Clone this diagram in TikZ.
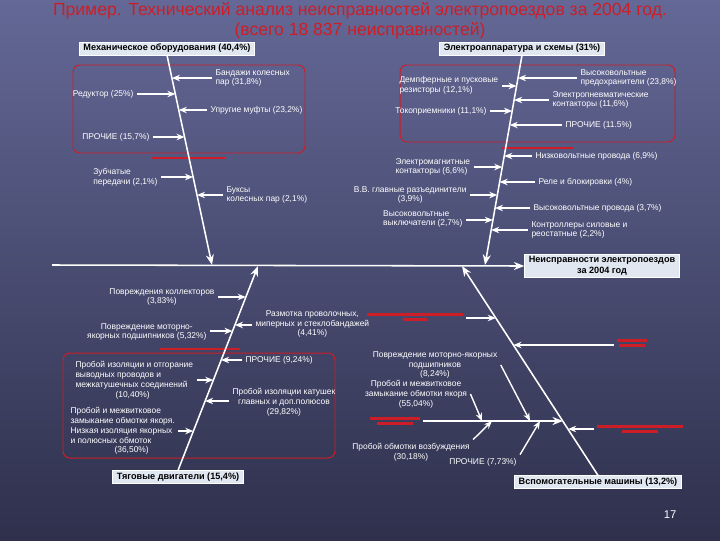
\documentclass[tikz,border=0pt]{standalone}
\usepackage{fontspec}
\setmainfont{Liberation Sans}
\usetikzlibrary{arrows.meta,positioning,calc}
\definecolor{tred}{RGB}{205,30,40}
\definecolor{hdrfill}{RGB}{224,231,241}
\definecolor{bgtop}{RGB}{100,104,150}
\definecolor{bgbot}{RGB}{46,48,76}
\tikzset{
  hdr/.style={draw=white,fill=hdrfill,text=black,font=\fontsize{6.5}{7.5}\selectfont\bfseries,align=center,inner xsep=3pt,inner ysep=1.5pt},
  lbl/.style={text=white,font=\fontsize{6}{7}\selectfont,align=left,inner sep=1pt,outer sep=1.5pt},
  arr/.style={-{Stealth[length=2mm,width=1.6mm]},white,line width=1pt},
  bone/.style={-{Stealth[length=2.6mm,width=2mm]},white,line width=1.1pt},
  rbox/.style={draw=tred,rounded corners=5pt,line width=0.7pt},
  rlbl/.style={inner sep=0pt,outer sep=2pt,text=tred,align=center,font=\fontsize{2}{3}\selectfont},
}

\begin{document}
\begin{tikzpicture}[x=0.025cm,y=-0.025cm]
% background
\path[use as bounding box,top color=bgtop,bottom color=bgbot] (0,0) rectangle (720,540);

% title
\node[text=tred,font=\fontsize{12.5}{15}\selectfont] (ttl1) at (360,11) {Пример. Технический анализ неисправностей электропоездов за 2004 год.};
\node[text=tred,font=\fontsize{12.5}{15}\selectfont] (ttl2) at (360,31) {(всего 18 837 неисправностей)};

% red frames
\draw[rbox] (73,65) rectangle (305,153);
\draw[rbox] (400,65) rectangle (675,142);
\draw[rbox] (63,353) rectangle (335,458);
\draw[tred,line width=2pt] (152,158) -- (225,158);
\draw[tred,line width=2pt] (502,148) -- (573,148);
\draw[tred,line width=2pt] (160,349) -- (240,349);

% heads and spine
\node[hdr] (mech) at (167,48.5) {Механическое оборудования (40,4\%)};
\node[hdr] (elec) at (522,48.5) {Электроаппаратура и схемы (31\%)};
\node[hdr] (trac) at (178,477) {Тяговые двигатели (15,4\%)};
\node[hdr] (aux) at (598,482) {Вспомогательные машины (13,2\%)};
\node[hdr] (goal) at (602,266) {Неисправности электропоездов\\за 2004 год};

\coordinate (sp0) at (52,265);
\coordinate (m0) at (212,265);
\coordinate (e0) at (485,265);
\coordinate (t0) at (258,266);
\coordinate (v0) at (462,266);
\draw[bone] (sp0) -- (goal.west);
\draw[bone] (mech.south) -- (m0);
\draw[bone] (elec.south) -- (e0);
\draw[bone] (trac.north) -- (t0);
\draw[bone] (aux.north) -- (v0);

% mechanical
\node[lbl,anchor=west] (b1a) at (212,78) {Бандажи колесных\\пар (31,8\%)};
\node[lbl,anchor=east] (b1b) at (137,94) {Редуктор (25\%)};
\node[lbl,anchor=west] (b1c) at (207,110) {Упругие муфты (23,2\%)};
\node[lbl,anchor=east] (b1d) at (153,137) {ПРОЧИЕ (15,7\%)};
\node[lbl,anchor=east] (b1e) at (161,177) {Зубчатые\\передачи (2,1\%)};
\node[lbl,anchor=west] (b1f) at (223,195) {Буксы\\колесных пар (2,1\%)};
\coordinate (h1a) at (171.9,78);
\coordinate (h1b) at (175.4,94);
\coordinate (h1c) at (178.8,110);
\coordinate (h1d) at (184.6,137);
\coordinate (h1e) at (193.1,177);
\coordinate (h1f) at (197.0,195);
\draw[arr] (b1a.west |- h1a) -- (h1a);
\draw[arr] (b1b.east |- h1b) -- (h1b);
\draw[arr] (b1c.west |- h1c) -- (h1c);
\draw[arr] (b1d.east |- h1d) -- (h1d);
\draw[arr] (b1e.east |- h1e) -- (h1e);
\draw[arr] (b1f.west |- h1f) -- (h1f);

% electrical
\node[lbl,anchor=west] (b2a) at (577,78) {Высоковольтные\\предохранители (23,8\%)};
\node[lbl,anchor=west] (b2b) at (396,85) {Демпферные и пусковые\\резисторы (12,1\%)};
\node[lbl,anchor=west] (b2c) at (549,100) {Электропневматические\\контакторы (11,6\%)};
\node[lbl,anchor=east] (b2d) at (490,111) {Токоприемники (11,1\%)};
\node[lbl,anchor=west] (b2e) at (562,125) {ПРОЧИЕ (11.5\%)};
\node[lbl,anchor=west] (b2f) at (532,156) {Низковольтные провода (6,9\%)};
\node[lbl,anchor=west] (b2g) at (392,167) {Электромагнитные\\контакторы (6,6\%)};
\node[lbl,anchor=west] (b2h) at (535,182) {Реле и блокировки (4\%)};
\node[lbl,anchor=east,align=center] (b2i) at (470,195) {В.В. главные разъединители\\(3,9\%)};
\node[lbl,anchor=west] (b2j) at (530,208) {Высоковольтные провода (3,7\%)};
\node[lbl,anchor=east] (b2k) at (466,219) {Высоковольтные\\выключатели (2,7\%)};
\node[lbl,anchor=west] (b2l) at (528,230) {Контроллеры силовые и\\реостатные (2,2\%)};
\coordinate (h2a) at (518.0,78);
\coordinate (h2b) at (516.5,86);
\coordinate (h2c) at (514.1,100);
\coordinate (h2d) at (512.1,111);
\coordinate (h2e) at (509.7,125);
\coordinate (h2f) at (504.2,156);
\coordinate (h2g) at (502.3,167);
\coordinate (h2h) at (499.6,182);
\coordinate (h2i) at (497.3,195);
\coordinate (h2j) at (495.0,208);
\coordinate (h2k) at (492.9,220);
\coordinate (h2l) at (491.2,230);
\draw[arr] (b2a.west |- h2a) -- (h2a);
\draw[arr] (b2b.east |- h2b) -- (h2b);
\draw[arr] (b2c.west |- h2c) -- (h2c);
\draw[arr] (b2d.east |- h2d) -- (h2d);
\draw[arr] (b2e.west |- h2e) -- (h2e);
\draw[arr] (b2f.west |- h2f) -- (h2f);
\draw[arr] (b2g.east |- h2g) -- (h2g);
\draw[arr] (b2h.west |- h2h) -- (h2h);
\draw[arr] (b2i.east |- h2i) -- (h2i);
\draw[arr] (b2j.west |- h2j) -- (h2j);
\draw[arr] (b2k.east |- h2k) -- (h2k);
\draw[arr] (b2l.west |- h2l) -- (h2l);

% traction motors
\node[lbl,anchor=east,align=center] (b3a) at (218,297) {Повреждения коллекторов\\(3,83\%)};
\node[lbl,anchor=west,align=center] (b3b) at (252,324) {Размотка проволочных,\\миперных и стеклобандажей\\(4,41\%)};
\node[lbl,anchor=east,align=center] (b3c) at (210,332) {Повреждение моторно-\\якорных подшипников (5,32\%)};
\node[lbl,anchor=west] (b3d) at (242,360) {ПРОЧИЕ (9,24\%)};
\node[lbl,anchor=west] (b3e) at (72,380) {Пробой изоляции и отгорание\\выводных проводов и\\межкатушечных соединений\\\hspace*{10mm}(10,40\%)};
\node[lbl,anchor=west,align=center] (b3f) at (229,402) {Пробой изоляции катушек\\главных и доп.полюсов\\(29,82\%)};
\node[lbl,anchor=west] (b3g) at (67,431) {Пробой и межвитковое\\замыкание обмотки якоря.\\Низкая изоляция якорных\\и полюсных обмоток\\\hspace*{11mm}(36,50\%)};
\coordinate (h3a) at (245.8,297);
\coordinate (h3b) at (234.9,325);
\coordinate (h3c) at (232.5,331);
\coordinate (h3d) at (221.1,360);
\coordinate (h3e) at (213.3,380);
\coordinate (h3f) at (205.1,401);
\coordinate (h3g) at (193.3,431);
\draw[arr] (b3a.east |- h3a) -- (h3a);
\draw[arr] (b3b.west |- h3b) -- (h3b);
\draw[arr] (b3c.east |- h3c) -- (h3c);
\draw[arr] (b3d.west |- h3d) -- (h3d);
\draw[arr] (b3e.east |- h3e) -- (h3e);
\draw[arr] (b3f.west |- h3f) -- (h3f);
\draw[arr] (b3g.east |- h3g) -- (h3g);

% auxiliary machines
\node[rlbl] (r4a) at (415,317) {\rule{24mm}{2pt}\\[1pt]\rule{6mm}{2pt}};
\node[rlbl] (r4b) at (632,343) {\rule{7.5mm}{2pt}\\[1pt]\rule{6.5mm}{2pt}};
\node[rlbl] (r4c) at (395,421) {\rule{12.5mm}{2pt}\\[1pt]\rule{9mm}{2pt}};
\node[rlbl] (r4d) at (640,429) {\rule{21.5mm}{2pt}\\[1pt]\rule{9mm}{2pt}};
\coordinate (h4a) at (495.8,318);
\coordinate (h4b) at (513.4,345);
\coordinate (sj) at (562.9,421);
\coordinate (h4d) at (568.1,429);
\draw[arr] (r4a.east |- h4a) -- (h4a);
\draw[arr] (r4b.west |- h4b) -- (h4b);
\draw[bone] (r4c.east |- sj) -- (sj);
\draw[arr] (r4d.west |- h4d) -- (h4d);

\node[lbl,align=center] (b4a) at (435,365) {Повреждение моторно-якорных\\подшипников\\(8,24\%)};
\node[lbl,align=center] (b4b) at (416,394) {Пробой и межвитковое\\замыкание обмотки якоря\\(55,04\%)};
\node[lbl,align=center] (b4c) at (411,452) {Пробой обмотки возбуждения\\(30,18\%)};
\node[lbl] (b4d) at (483,462) {ПРОЧИЕ (7,73\%)};
\coordinate (s1) at (530,421);
\coordinate (s2) at (482,421);
\coordinate (s3) at (492,421);
\coordinate (s4) at (540,421);
\draw[arr] (b4a.east) -- (s1);
\draw[arr] (b4b.east) -- (s2);
\draw[arr] (b4c.north east) -- (s3);
\draw[arr] (b4d.north east) -- (s4);

% page number
\node[text=white,font=\fontsize{8}{9}\selectfont] (pg) at (670,515) {17};
\end{tikzpicture}
\end{document}
